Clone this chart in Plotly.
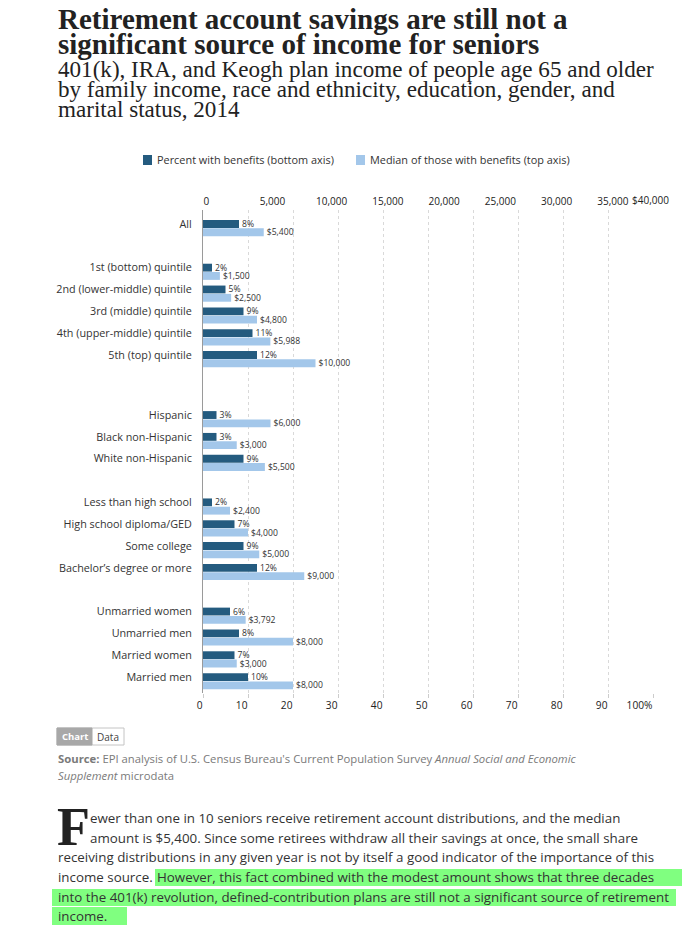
import plotly.graph_objects as go

# ---------------- data ----------------
categories = [
    "All",
    "1st (bottom) quintile",
    "2nd (lower-middle) quintile",
    "3rd (middle) quintile",
    "4th (upper-middle) quintile",
    "5th (top) quintile",
    "Hispanic",
    "Black non-Hispanic",
    "White non-Hispanic",
    "Less than high school",
    "High school diploma/GED",
    "Some college",
    "Bachelor\u2019s degree or more",
    "Unmarried women",
    "Unmarried men",
    "Married women",
    "Married men",
]
pct_with_benefits = [8, 2, 5, 9, 11, 12, 3, 3, 9, 2, 7, 9, 12, 6, 8, 7, 10]
median_benefit = [5400, 1500, 2500, 4800, 5988, 10000, 6000, 3000, 5500,
                  2400, 4000, 5000, 9000, 3792, 8000, 3000, 8000]
group_sizes = [1, 5, 3, 4, 4]

top_tickvals = [0, 5000, 10000, 15000, 20000, 25000, 30000, 35000]
top_last_tick = 40000
top_last_label = "$40,000"
bottom_tickvals = [0, 10, 20, 30, 40, 50, 60, 70, 80, 90, 100]
bottom_ticktext = ["0", "10", "20", "30", "40", "50", "60", "70", "80", "90", "100%"]

series_names = ["Percent with benefits (bottom axis)",
                "Median of those with benefits (top axis)"]

# ---------------- layout constants ----------------
OFF = 8                      # page body margin of the html page
WIDTH, HEIGHT = 698 - OFF, 932 - OFF
PLOT_X0, PLOT_X1 = 203, 653  # page pixels
PLOT_Y0, PLOT_Y1 = 210, 693
L, R = PLOT_X0 - OFF, 698 - PLOT_X1
T, B = PLOT_Y0 - OFF, 932 - PLOT_Y1
PW, PH = WIDTH - L - R, HEIGHT - T - B
SANS = "'Open Sans', sans-serif"
SERIF = "'Liberation Serif', 'DejaVu Serif', serif"
DARK = "#245b7f"
LIGHT = "#a3c7ea"
GROUP_GAPS = [2.0, 2.75, 2.0, 2.0]


def X(px):
    return (px - OFF - L) / PW


def Y(py):
    return 1 - (py - OFF - T) / PH


# row positions (category slots) on the numeric y axis
positions = []
slot = 0.0
for gi, size in enumerate(group_sizes):
    for _ in range(size):
        positions.append(slot)
        slot += 1
    if gi < len(GROUP_GAPS):
        slot += GROUP_GAPS[gi] - 1

fig = go.Figure()
fig.add_trace(go.Bar(
    name=series_names[0], x=pct_with_benefits, y=positions, orientation="h",
    xaxis="x", yaxis="y", offset=-0.18, width=0.36,
    marker=dict(color=DARK, line=dict(width=0)),
    texttemplate="%{x}%", textposition="outside", constraintext="none",
    cliponaxis=False, textfont=dict(family=SANS, size=8.6, color="#333"),
))
fig.add_trace(go.Bar(
    name=series_names[1], x=median_benefit, y=positions, orientation="h",
    xaxis="x2", yaxis="y", offset=0.2, width=0.36,
    marker=dict(color=LIGHT, line=dict(width=0)),
    texttemplate="$%{x:,}", textposition="outside", constraintext="none",
    cliponaxis=False, textfont=dict(family=SANS, size=8.6, color="#333"),
))

annotations = []
shapes = []


def text(px, py, s, size, color="#333", family=SANS, anchor="left", yanchor="middle"):
    annotations.append(dict(
        x=X(px), y=Y(py), xref="paper", yref="paper", text=s, showarrow=False,
        xanchor=anchor, yanchor=yanchor, align="left",
        font=dict(family=family, size=size, color=color)))


def rect(x0, y0, x1, y1, fill, line=None, lw=0):
    shapes.append(dict(type="rect", xref="paper", yref="paper",
                       x0=X(x0), x1=X(x1), y0=Y(y0), y1=Y(y1),
                       fillcolor=fill, line=dict(color=line or fill, width=lw),
                       layer="below"))


# highlights (below text)
rect(155, 869, 682, 886, "#80ff80")
rect(52, 889, 676, 906, "#80ff80")
rect(52, 907, 127, 925, "#80ff80")

# titles
text(56, 19, "<b>Retirement account savings are still not a</b>", 29, "#222", SERIF)
text(56, 44, "<b>significant source of income for seniors</b>", 29, "#222", SERIF)
text(56, 69, "401(k), IRA, and Keogh plan income of people age 65 and older", 23.1, "#222", SERIF)
text(56, 89, "by family income, race and ethnicity, education, gender, and", 23.1, "#222", SERIF)
text(56, 109, "marital status, 2014", 23.1, "#222", SERIF)

# legend
rect(143, 155, 152, 165, DARK)
text(155, 160, series_names[0], 10.9, "#333")
rect(356, 155, 365, 165, LIGHT)
text(368, 160, series_names[1], 10.9, "#333")

# last top-axis label (centered on its tick)
annotations.append(dict(x=top_last_tick, y=Y(200), xref="x2", yref="paper",
                        text=top_last_label, showarrow=False, xanchor="center",
                        yanchor="middle", xshift=-3,
                        font=dict(family=SANS, size=10, color="#222")))

# Chart / Data toggle
rect(57, 728, 124, 745, "#ffffff", "#c4c4c4", 1)
rect(57, 728, 92, 745, "#a8a8a8", "#a8a8a8", 1)
text(74.5, 736.5, "<b>Chart</b>", 9.5, "#ffffff", anchor="center")
text(108, 736.5, "Data", 10, "#444", anchor="center")

# source
text(56, 758, "<b>Source:</b> EPI analysis of U.S. Census Bureau's Current Population Survey "
              "<i>Annual Social and Economic</i>", 11.3, "#7a7a7a")
text(56, 775, "<i>Supplement</i> microdata", 11.3, "#7a7a7a")

# paragraph
PS = 13.35
text(55, 827, "<b>F</b>", 54, "#222", SERIF)
text(88, 818, "ewer than one in 10 seniors receive retirement account distributions, and the median", PS, "#333")
text(88, 838, "amount is $5,400. Since some retirees withdraw all their savings at once, the small share", PS, "#333")
text(56, 857, "receiving distributions in any given year is not by itself a good indicator of the importance of this", PS, "#333")
text(56, 877, "income source. ", PS, "#333")
text(155, 877, "However, this fact combined with the modest amount shows that three decades", PS, "#333")
text(56, 897, "into the 401(k) revolution, defined-contribution plans are still not a significant source of retirement", PS, "#333")
text(56, 916, "income.", PS, "#333")

fig.update_layout(
    width=WIDTH, height=HEIGHT,
    margin=dict(l=L, r=R, t=T, b=B, autoexpand=False),
    paper_bgcolor="white", plot_bgcolor="white",
    showlegend=False, barmode="overlay",
    annotations=annotations, shapes=shapes,
    xaxis=dict(
        domain=[0, 1], range=[0, 100], tickvals=bottom_tickvals, ticktext=bottom_ticktext,
        ticklabelposition="outside left", ticks="outside", ticklen=4, tickcolor="#cccccc",
        ticklabelstandoff=3,
        showgrid=True, gridcolor="#d9d9d9", griddash="dot", gridwidth=1,
        zeroline=False, showline=False,
        tickfont=dict(family=SANS, size=10.2, color="#222"), fixedrange=True,
    ),
    xaxis2=dict(
        overlaying="x", side="top", anchor="y", range=[0, 40000],
        tickvals=top_tickvals, tickformat=",", ticklabelposition="outside right",
        ticks="outside", ticklen=4, tickcolor="rgba(0,0,0,0)",
        showgrid=False, zeroline=False, showline=False,
        tickfont=dict(family=SANS, size=10, color="#222"), fixedrange=True,
    ),
    yaxis=dict(
        range=[21.48, -0.64], tickvals=positions, ticktext=categories, ticks="",
        showgrid=False, zeroline=False, showline=True, linecolor="#9a9a9a", linewidth=1,
        ticklabelstandoff=8, tickfont=dict(family=SANS, size=10.8, color="#333"),
        fixedrange=True,
    ),
)

fig.write_html("out.html")
